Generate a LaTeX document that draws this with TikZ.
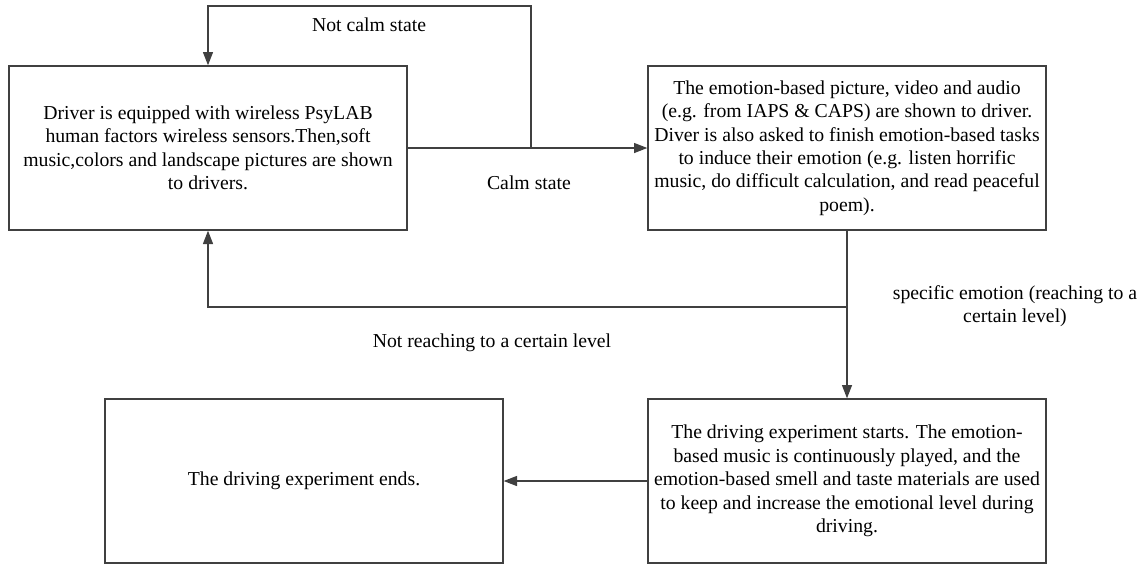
\documentclass[tikz,border=0pt]{standalone}
\usepackage{fontspec}
\setmainfont{Liberation Serif}
\usetikzlibrary{arrows.meta}
\definecolor{linegray}{HTML}{404040}
\begin{document}
\begin{tikzpicture}[x=0.75pt, y=-0.75pt,
  box/.style={draw=linegray, line width=1pt, minimum width=298.5pt, minimum height=123pt,
              inner sep=0pt, align=center, font=\fontsize{14.8}{17.6}\selectfont},
  lbl/.style={align=center, font=\fontsize{14.8}{17.6}\selectfont},
  wire/.style={draw=linegray, line width=1pt},
  arr/.style={wire, -{Triangle[length=10pt,width=7.5pt]}}]
  \useasboundingbox (0,0) rectangle (1145,565);

  % the four steps
  \node[box] (setup) at (208,148) {Driver is equipped with wireless PsyLAB\\
    human factors wireless sensors.Then,soft\\
    music,colors and landscape pictures are shown\\
    to drivers.};
  \node[box] (induce) at (847,148) {The emotion-based picture, video and audio\\
    (e.g. from IAPS \& CAPS) are shown to driver.\\
    Diver is also asked to finish emotion-based tasks\\
    to induce their emotion (e.g. listen horrific\\
    music, do difficult calculation, and read peaceful\\
    poem).};
  \node[box] (start) at (847,481) {The driving experiment starts. The emotion-\\
    based music is continuously played, and the\\
    emotion-based smell and taste materials are used\\
    to keep and increase the emotional level during\\
    driving.};
  \node[box] (stop) at (304,481) {The driving experiment ends.};

  % branch points
  \coordinate (calmfork) at (531,147);
  \coordinate (looptop) at (531,6);
  \coordinate (levelfork) at (847,307);

  % calm check
  \draw[arr] (setup) -- (induce);
  \draw[arr] (calmfork) -- (looptop) -| (setup.north);
  % emotion level check
  \draw[arr] (induce) -- (start);
  \draw[arr] (levelfork) -| (setup.south);
  \draw[arr] (start) -- (stop);

  % labels on the branches
  \node[lbl] (notcalm) at (369,25) {Not calm state};
  \node[lbl] (calm) at (529,183) {Calm state};
  \node[lbl] (reached) at (1015,306) {specific emotion (reaching to a\\ certain level)};
  \node[lbl] (notreached) at (492,343) {Not reaching to a certain level};
\end{tikzpicture}
\end{document}
